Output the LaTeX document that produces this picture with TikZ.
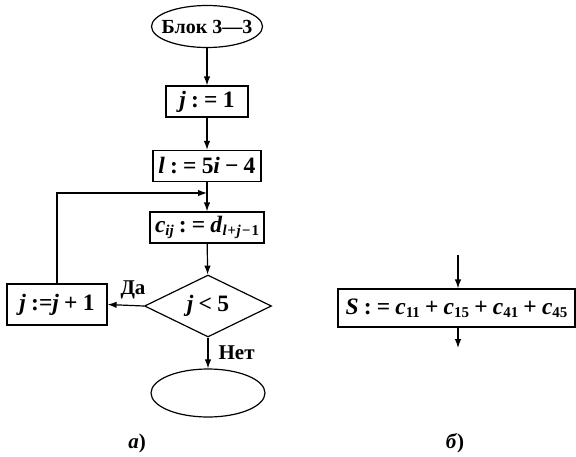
\documentclass[tikz,border=0pt]{standalone}
\usepackage{fontspec}
\setmainfont{Liberation Serif}
\usetikzlibrary{shapes.geometric,arrows.meta}
\newcommand{\mv}[1]{\textbf{\textit{#1}}}
\newcommand{\sbs}[1]{\raisebox{-3pt}{\fontsize{15}{15}\selectfont\bfseries #1}}
\newcommand{\gp}{\hspace{0.22em}}
\begin{document}
\begin{tikzpicture}[x=1pt,y=-1pt,
  line width=1.2pt,
  >={Latex[length=9pt,width=6.5pt]},
  every node/.style={font=\fontsize{23.5}{26}\selectfont\bfseries, inner sep=0pt},
  blk/.style={draw, rectangle, minimum height=31pt, inner xsep=5pt},
  term/.style={draw, ellipse, minimum width=112pt, minimum height=43pt},
  cond/.style={draw, diamond, minimum width=127pt, minimum height=62pt, aspect=2},
  lbl/.style={font=\fontsize{21}{23}\selectfont\bfseries}]
\useasboundingbox (0,0) rectangle (576,456);
\node[rectangle, minimum width=111pt, minimum height=42pt, font=\fontsize{20}{22}\selectfont\bfseries] (start) at (207,26.5) {Блок 3—3};
\draw (start.center) ellipse [x radius=55.5, y radius=21];
\node[blk, minimum width=82pt] (j1) at (207,101.5) {\mv{j}\gp:\gp=\gp1};
\node[blk, minimum width=108pt] (l5) at (207,166) {\mv{l}\gp:\gp=\gp5\mv{i}\gp−\gp4};
\node[blk, minimum width=110pt] (cij) at (207,227.5) {\mv{c}\sbs{\itshape ij}\gp:\gp=\gp\mv{d}\sbs{\itshape l\hspace{0.05em}+\hspace{0.05em}j\hspace{0.05em}−\hspace{0.05em}\upshape 1}};
\node[cond] (dec) at (208,306) {\mv{j}\gp<\gp5};
\node[blk, minimum width=100pt, minimum height=41pt] (jj) at (57,304.5) {\mv{j}\gp:=\mv{j}\gp+\gp1};
\node[term, minimum width=114pt, minimum height=48pt] (stop) at (208,393) {};
\coordinate (join) at (207,193);
\coordinate (lt) at (57,193);
\draw[->] (start) -- (j1);
\draw[->] (j1) -- (l5);
\draw[->] (l5) -- (cij);
\draw[->] (cij) -- (dec);
\draw[->] (dec.west) -- (jj.east) node[pos=0.3, above=6pt, lbl] {Да};
\draw[->] (jj.north) -- (lt) -- (join);
\draw[->] (dec.south) -- (stop.north) node[pos=0.5, right=10pt, lbl] {Нет};
% part b
\node[blk, minimum width=237pt, minimum height=38pt] (S) at (456.5,308) {\mv{S}\gp:\gp=\gp\mv{c}\sbs{11}\gp+\gp\mv{c}\sbs{15}\gp+\gp\mv{c}\sbs{41}\gp+\gp\mv{c}\sbs{45}};
\coordinate (sin) at (458,255);
\coordinate (sout) at (458,348);
\draw[->] (sin) -- (S.north -| sin);
\draw[->] (S.south -| sout) -- (sout);
\node[lbl] (la) at (137,443) {\textit{а})};
\node[lbl] (lb) at (455,443) {\textit{б})};
\end{tikzpicture}
\end{document}
